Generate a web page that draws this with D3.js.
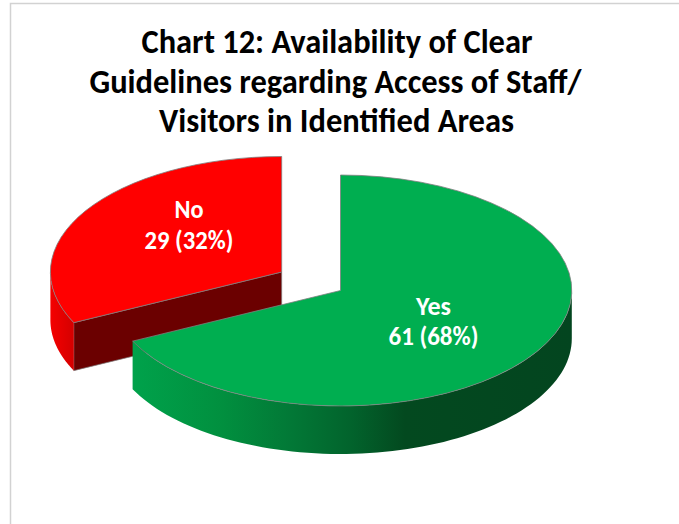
<!DOCTYPE html>
<html><head><meta charset="utf-8">
<script src="https://cdn.jsdelivr.net/npm/d3@7"></script>
<style>html,body{margin:0;padding:0;background:#fff}svg{display:block}text{font-family:Carlito,Lato,"Open Sans",sans-serif;font-weight:700}</style>
</head><body><svg id="c" width="679" height="524"></svg>
<script>
const titleLines = ["Chart 12: Availability of Clear","Guidelines regarding Access of Staff/","Visitors in Identified Areas"];
const categories = ["Yes","No"];
const values = [61,29];
const percents = ["68%","32%"];
const topColors = ["#00ae50","#ff0000"];

const W=679,H=524,rx=231.3,ry=115.5,depth=48;
const centers=[[340.5,290.5],[281.7,272]];
const labelPos=[[433.5,315,345],[189,218,249]];
const svg=d3.select("#c");
svg.append("path").attr("d",`M10.5 524V3.5H679`).attr("fill","none").attr("stroke","#d2d2d2").attr("stroke-width",1.5);

const defs=svg.append("defs");
const gg=defs.append("linearGradient").attr("id","gGreen").attr("gradientUnits","userSpaceOnUse").attr("x1",132).attr("x2",572).attr("y1",0).attr("y2",0);
[[0,"#00a24b"],[0.2,"#01903f"],[0.35,"#027a37"],[0.5,"#02632c"],[0.62,"#03491f"],[1,"#03451f"]].forEach(s=>gg.append("stop").attr("offset",s[0]).attr("stop-color",s[1]));
const gr=defs.append("linearGradient").attr("id","gRed").attr("gradientUnits","userSpaceOnUse").attr("x1",50).attr("x2",74).attr("y1",0).attr("y2",0);
[[0,"#f50000"],[1,"#d40000"]].forEach(s=>gr.append("stop").attr("offset",s[0]).attr("stop-color",s[1]));
const sideFill=["url(#gGreen)","url(#gRed)"];
const wallFill="#6b0000";

const arcs=d3.pie().sort(null)(values);
const arcGen=d3.arc().innerRadius(0).outerRadius(rx);
const px=(c,a)=>c[0]+rx*Math.sin(a), py=(c,a)=>c[1]-ry*Math.cos(a);
const edge="#7f7f7f";

// red is behind green
[1,0].forEach(i=>{
  const d=arcs[i],c=centers[i],g=svg.append("g");
  const a0=Math.max(d.startAngle,Math.PI/2),a1=Math.min(d.endAngle,3*Math.PI/2);
  const n=80, as=d3.range(n+1).map(k=>a0+(a1-a0)*k/n);
  const p=d3.path();
  as.forEach((a,k)=>k?p.lineTo(px(c,a),py(c,a)):p.moveTo(px(c,a),py(c,a)));
  as.slice().reverse().forEach(a=>p.lineTo(px(c,a),py(c,a)+depth));
  p.closePath();
  if(d.startAngle>Math.PI && d.startAngle<3*Math.PI/2){
    const a=d.startAngle,w=d3.path();
    w.moveTo(c[0],c[1]);w.lineTo(px(c,a),py(c,a));w.lineTo(px(c,a),py(c,a)+depth);w.lineTo(c[0],c[1]+depth);w.closePath();
    g.append("path").attr("d",w.toString()).attr("fill",wallFill).attr("stroke",edge).attr("stroke-width",.7);
  }
  g.append("path").attr("d",p.toString()).attr("fill",sideFill[i]);
  g.append("path").attr("d",arcGen(d)).attr("transform",`translate(${c[0]},${c[1]}) scale(1,${ry/rx})`)
    .attr("fill",topColors[i]).attr("stroke",edge).attr("stroke-width",.8).attr("vector-effect","non-scaling-stroke");
});

const fit=(sel,w)=>sel.attr("textLength",w).attr("lengthAdjust","spacingAndGlyphs");
const titleW=[391,492,355],titleX=[337,335.5,336.5];
titleLines.forEach((t,i)=>{
  fit(svg.append("text").attr("x",titleX[i]).attr("y",53+i*39.7).attr("text-anchor","middle").attr("font-size",34).attr("fill","#000").text(t),titleW[i]);
});
const catW=[35,29],valW=[90,89];
categories.forEach((cat,i)=>{
  const l=labelPos[i];
  fit(svg.append("text").attr("x",l[0]).attr("y",l[1]).attr("text-anchor","middle").attr("font-size",26).attr("fill","#fff").text(cat),catW[i]);
  fit(svg.append("text").attr("x",l[0]).attr("y",l[2]).attr("text-anchor","middle").attr("font-size",26).attr("fill","#fff").text(`${values[i]} (${percents[i]})`),valW[i]);
});
</script></body></html>
